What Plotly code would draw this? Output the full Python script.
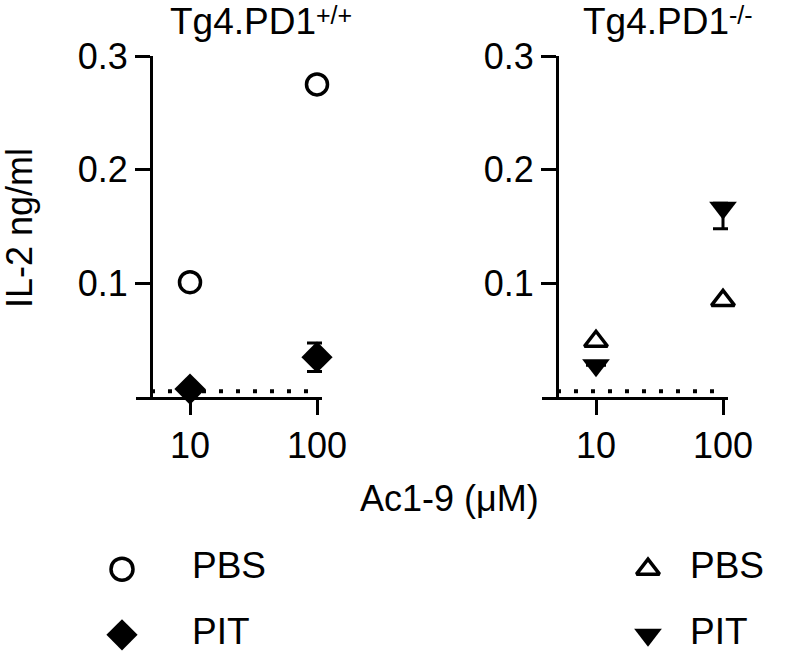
import plotly.graph_objects as go

# ---- data ----
doses = [10, 100]
dose_labels = ["10", "100"]
wt_pbs = [0.101, 0.275]
wt_pit = [0.007, 0.035]
wt_pit_err = [0.0, 0.0125]
ko_pbs = [0.049, 0.085]
ko_pit = [0.028, 0.1665]
ko_pit_err_up = [0.0, 0.004]
ko_pit_err_down = [0.0, 0.0185]
lod_y = 0.005
lod_x = [4.93, 100]
y_ticks = [0.1, 0.2, 0.3]
legend_labels = ["PBS", "PIT"]
panel_titles = ["Tg4.PD1", "Tg4.PD1"]
panel_genotypes = ["+/+", "-/-"]

W, H = 790, 655
FONT = "Arial, Liberation Sans, sans-serif"

def px(x):
    return x / W

def py(y):
    return 1 - y / H

fig = go.Figure()

# left panel
fig.add_trace(go.Scatter(x=lod_x, y=[lod_y, lod_y], mode="lines",
                         line=dict(color="black", width=4, dash="4px,13px"),
                         xaxis="x", yaxis="y", showlegend=False, hoverinfo="skip"))
fig.add_trace(go.Scatter(x=doses, y=wt_pbs, mode="markers",
                         marker=dict(symbol="circle-open", size=21, color="black", line=dict(width=3.5)),
                         xaxis="x", yaxis="y", showlegend=False, cliponaxis=False))
fig.add_trace(go.Scatter(x=doses, y=wt_pit, mode="markers",
                         marker=dict(symbol="diamond", size=24, color="black"),
                         error_y=dict(type="data", array=wt_pit_err, color="black", thickness=3, width=10),
                         xaxis="x", yaxis="y", showlegend=False, cliponaxis=False))

# right panel
fig.add_trace(go.Scatter(x=lod_x, y=[lod_y, lod_y], mode="lines",
                         line=dict(color="black", width=4, dash="4px,13px"),
                         xaxis="x2", yaxis="y2", showlegend=False, hoverinfo="skip"))
fig.add_trace(go.Scatter(x=doses, y=ko_pbs, mode="markers",
                         marker=dict(symbol="triangle-up-open", size=20, color="black", line=dict(width=3.5)),
                         xaxis="x2", yaxis="y2", showlegend=False, cliponaxis=False))
fig.add_trace(go.Scatter(x=doses, y=ko_pit, mode="markers",
                         marker=dict(symbol="triangle-down", size=24, color="black"),
                         error_y=dict(type="data", symmetric=False, array=ko_pit_err_up,
                                      arrayminus=ko_pit_err_down, color="black", thickness=3, width=10),
                         xaxis="x2", yaxis="y2", showlegend=False, cliponaxis=False))

# manual legends (hidden axes)
fig.add_trace(go.Scatter(x=[0], y=[legend_labels[0]], mode="markers",
                         marker=dict(symbol="circle-open", size=22, color="black", line=dict(width=3.5)),
                         xaxis="x3", yaxis="y3", showlegend=False, cliponaxis=False))
fig.add_trace(go.Scatter(x=[0], y=[legend_labels[1]], mode="markers",
                         marker=dict(symbol="diamond", size=24, color="black"),
                         xaxis="x3", yaxis="y3", showlegend=False, cliponaxis=False))
fig.add_trace(go.Scatter(x=[1, 1], y=legend_labels, mode="text", text=legend_labels,
                         textposition="middle right", textfont=dict(family=FONT, size=37, color="black"),
                         xaxis="x3", yaxis="y3", showlegend=False, cliponaxis=False))
fig.add_trace(go.Scatter(x=[0], y=[legend_labels[0]], mode="markers",
                         marker=dict(symbol="triangle-up-open", size=20, color="black", line=dict(width=3.5)),
                         xaxis="x4", yaxis="y4", showlegend=False, cliponaxis=False))
fig.add_trace(go.Scatter(x=[0], y=[legend_labels[1]], mode="markers",
                         marker=dict(symbol="triangle-down", size=24, color="black"),
                         xaxis="x4", yaxis="y4", showlegend=False, cliponaxis=False))
fig.add_trace(go.Scatter(x=[1, 1], y=legend_labels, mode="text", text=legend_labels,
                         textposition="middle right", textfont=dict(family=FONT, size=37, color="black"),
                         xaxis="x4", yaxis="y4", showlegend=False, cliponaxis=False))

xr = [0.5748, 2.0394]
common_x = dict(type="log", range=xr, tickvals=doses, ticktext=dose_labels,
                showline=True, linecolor="black", linewidth=3, ticks="outside",
                ticklen=15, tickwidth=3, tickcolor="black", showgrid=False, zeroline=False,
                automargin=False,
                tickfont=dict(family=FONT, size=36, color="black"))
common_y = dict(range=[0, 0.3], tickvals=y_ticks, ticktext=[str(v) for v in y_ticks],
                showline=True, linecolor="black", linewidth=3, ticks="outside",
                ticklen=15, tickwidth=3, tickcolor="black", showgrid=False, zeroline=False,
                automargin=False,
                tickfont=dict(family=FONT, size=36, color="black"),
                domain=[py(397), py(56)], anchor="free")

hidden = dict(visible=False, showgrid=False, zeroline=False, automargin=False)

title_font = dict(family=FONT, size=37, color="black")
sup_font = dict(family=FONT, size=25, color="black")

fig.update_layout(
    width=W, height=H, autosize=False,
    margin=dict(l=0, r=0, t=0, b=0, pad=0, autoexpand=False),
    paper_bgcolor="white", plot_bgcolor="white",
    showlegend=False,
    font=dict(family=FONT, color="black"),
    xaxis=dict(common_x, domain=[px(136), px(322)], anchor="y"),
    yaxis=dict(common_y, position=px(151)),
    xaxis2=dict(common_x, domain=[px(542), px(728)], anchor="y2"),
    yaxis2=dict(common_y, position=px(557)),
    xaxis3=dict(hidden, domain=[px(100), px(300)], range=[-22 / 70, 178 / 70], anchor="y3"),
    yaxis3=dict(hidden, domain=[py(648), py(556)], range=[-0.2, 1.2], type="category",
                categoryorder="array", categoryarray=legend_labels[::-1], anchor="x3"),
    xaxis4=dict(hidden, domain=[px(600), px(790)], range=[-48 / 42, 142 / 42], anchor="y4"),
    yaxis4=dict(hidden, domain=[py(648), py(556)], range=[-0.2, 1.2], type="category",
                categoryorder="array", categoryarray=legend_labels[::-1], anchor="x4"),
    annotations=[
        dict(text=panel_titles[0], xref="paper", yref="paper", x=px(168), y=py(21),
             xanchor="left", yanchor="middle", showarrow=False, font=title_font),
        dict(text=panel_genotypes[0], xref="paper", yref="paper", x=px(314), y=py(15),
             xanchor="left", yanchor="middle", showarrow=False, font=sup_font),
        dict(text=panel_titles[1], xref="paper", yref="paper", x=px(581), y=py(21),
             xanchor="left", yanchor="middle", showarrow=False, font=title_font),
        dict(text=panel_genotypes[1], xref="paper", yref="paper", x=px(727), y=py(15),
             xanchor="left", yanchor="middle", showarrow=False, font=sup_font),
        dict(text="IL-2 ng/ml", xref="paper", yref="paper", x=px(19), y=py(228),
             xanchor="center", yanchor="middle", textangle=-90, showarrow=False,
             font=dict(family=FONT, size=36, color="black")),
        dict(text="Ac1-9 (μM)", xref="paper", yref="paper", x=px(449), y=py(498),
             xanchor="center", yanchor="middle", showarrow=False,
             font=dict(family=FONT, size=36, color="black")),
    ],
)

fig.write_html("out.html",
               config={"displayModeBar": False},
               post_script="document.body.style.margin='0px';document.body.style.padding='0px';")
